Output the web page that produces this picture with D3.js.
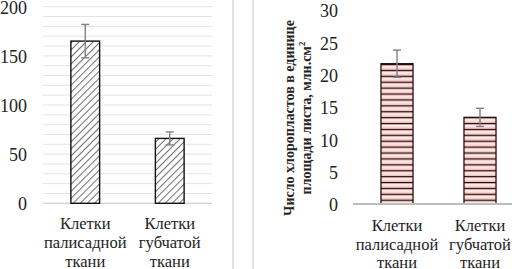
<!DOCTYPE html>
<html><head><meta charset="utf-8">
<script src="https://cdn.jsdelivr.net/npm/d3@7"></script>
<style>body{margin:0;background:#fff;}svg{display:block;}</style>
</head><body>
<svg id="c" width="512" height="269"></svg>
<script>
const categories = ["Клетки палисадной ткани", "Клетки губчатой ткани"];
const categoryLines = [["Клетки", "палисадной", "ткани"], ["Клетки", "губчатой", "ткани"]];
const leftValues = [165, 66];
const leftErrors = [17, 6.6];
const leftTicks = [0, 50, 100, 150, 200];
const rightValues = [21.7, 13.4];
const rightErrors = [2.1, 1.4];
const rightTicks = [0, 5, 10, 15, 20, 25, 30];
const rightTitle = ["Число хлоропластов в единице", "площади листа, млн.см"];

const svg = d3.select("#c");
const FONT = "Liberation Serif";
const defs = svg.append("defs");

// diagonal hatch
const hp = defs.append("pattern").attr("id","hatch").attr("patternUnits","userSpaceOnUse")
  .attr("width",5).attr("height",5).attr("patternTransform","rotate(45)");
hp.append("rect").attr("width",5).attr("height",5).attr("fill","#fff");
hp.append("line").attr("x1",0).attr("y1",0).attr("x2",0).attr("y2",5).attr("stroke","#222").attr("stroke-width",1.3);

// horizontal stripes with pink gradient
const g = defs.append("linearGradient").attr("id","pg").attr("x1",0).attr("y1",0).attr("x2",0).attr("y2",1);
g.append("stop").attr("offset","0").attr("stop-color","#eeb3ae");
g.append("stop").attr("offset","0.5").attr("stop-color","#fdf3f2");
g.append("stop").attr("offset","1").attr("stop-color","#eeb3ae");
const sp = defs.append("pattern").attr("id","stripes").attr("patternUnits","userSpaceOnUse")
  .attr("width",10).attr("height",5.9).attr("y",64);
sp.append("rect").attr("width",10).attr("height",5.9).attr("fill","url(#pg)");
sp.append("rect").attr("width",10).attr("height",1.2).attr("fill","#2a0c0c");

// panel separators
[233, 253].forEach(x => svg.append("line").attr("x1",x).attr("x2",x).attr("y1",0).attr("y2",269)
  .attr("stroke","#d9d9d9").attr("stroke-width",1.5));

function styleText(sel, size){
  sel.attr("font-family", FONT).attr("font-size", size).attr("fill","#222");
  return sel;
}

// ---------- Left chart ----------
const yL = d3.scaleLinear().domain([0,200]).range([203.3,6.7]);
const xL = d3.scaleBand().domain(categories).range([43,212]).paddingInner(0.66).paddingOuter(0.33);
const gridL = d3.range(0,201,10);
svg.append("g").selectAll("line").data(gridL).join("line")
  .attr("x1",43).attr("x2",212).attr("y1",d=>yL(d)).attr("y2",d=>yL(d))
  .attr("stroke",d=>d===0?"#d0d0d0":"#e4e4e4").attr("stroke-width",d=>d===0?1.3:1);
const axL = d3.axisLeft(yL).tickValues(leftTicks).tickSize(0).tickPadding(0);
const axLg = svg.append("g").attr("transform","translate(27,0)").call(axL);
axLg.select(".domain").remove();
axLg.attr("font-family", FONT).attr("font-size", 18);
styleText(axLg.selectAll("text").attr("dy","0.35em"), 18);

svg.append("g").selectAll("rect").data(leftValues).join("rect")
  .attr("x",(d,i)=>xL(categories[i])).attr("width",xL.bandwidth())
  .attr("y",d=>yL(d)).attr("height",d=>yL(0)-yL(d))
  .attr("fill","url(#hatch)").attr("stroke","#111").attr("stroke-width",1.4);
const ebL = svg.append("g").attr("stroke","#808080").attr("stroke-width",1.4);
leftValues.forEach((v,i)=>{
  const cx = xL(categories[i]) + xL.bandwidth()/2;
  ebL.append("line").attr("x1",cx).attr("x2",cx).attr("y1",yL(v+leftErrors[i])).attr("y2",yL(v-leftErrors[i]));
  ebL.append("line").attr("x1",cx-4).attr("x2",cx+4).attr("y1",yL(v+leftErrors[i])).attr("y2",yL(v+leftErrors[i]));
  ebL.append("line").attr("x1",cx-4).attr("x2",cx+4).attr("y1",yL(v-leftErrors[i])).attr("y2",yL(v-leftErrors[i]));
});
const baseL = [229, 248, 267];
categoryLines.forEach((lines,i)=>{
  const cx = xL(categories[i]) + xL.bandwidth()/2;
  lines.forEach((t,j)=> styleText(svg.append("text").attr("x",cx).attr("y",baseL[j]).attr("text-anchor","middle").text(t), 16.5));
});

// ---------- Right chart ----------
const yR = d3.scaleLinear().domain([0,30]).range([204,10]);
const xR = d3.scaleBand().domain(categories).range([355.5,521.5]).paddingInner(0.614).paddingOuter(0.307);
const axR = d3.axisLeft(yR).tickValues(rightTicks).tickSize(0).tickPadding(0);
const axRg = svg.append("g").attr("transform","translate(338,0)").call(axR);
axRg.select(".domain").remove();
axRg.attr("font-family", FONT).attr("font-size", 18);
styleText(axRg.selectAll("text").attr("dy","0.38em"), 18);

svg.append("g").selectAll("rect").data(rightValues).join("rect")
  .attr("x",(d,i)=>xR(categories[i])).attr("width",xR.bandwidth())
  .attr("y",d=>yR(d)).attr("height",d=>yR(0)-yR(d))
  .attr("fill","url(#stripes)").attr("stroke","#2a0c0c").attr("stroke-width",1.3);
svg.append("line").attr("x1",353).attr("x2",512).attr("y1",yR(0)).attr("y2",yR(0))
  .attr("stroke","#bdbdbd").attr("stroke-width",2.2);
const ebR = svg.append("g").attr("stroke","#808080").attr("stroke-width",1.4);
rightValues.forEach((v,i)=>{
  const cx = xR(categories[i]) + xR.bandwidth()/2;
  ebR.append("line").attr("x1",cx).attr("x2",cx).attr("y1",yR(v+rightErrors[i])).attr("y2",yR(v-rightErrors[i]));
  ebR.append("line").attr("x1",cx-4).attr("x2",cx+4).attr("y1",yR(v+rightErrors[i])).attr("y2",yR(v+rightErrors[i]));
  ebR.append("line").attr("x1",cx-4).attr("x2",cx+4).attr("y1",yR(v-rightErrors[i])).attr("y2",yR(v-rightErrors[i]));
});
const baseR = [231, 250, 268];
categoryLines.forEach((lines,i)=>{
  const cx = xR(categories[i]) + xR.bandwidth()/2;
  lines.forEach((t,j)=> styleText(svg.append("text").attr("x",cx).attr("y",baseR[j]).attr("text-anchor","middle").text(t), 16.5));
});

// Right y-axis title
const t1 = styleText(svg.append("text").attr("transform","translate(294,118) rotate(-90)").attr("text-anchor","middle")
  .attr("font-weight","bold").text(rightTitle[0]), 14);
const t2 = styleText(svg.append("text").attr("transform","translate(311,118) rotate(-90)").attr("text-anchor","middle")
  .attr("font-weight","bold"), 14);
t2.append("tspan").text(rightTitle[1]);
t2.append("tspan").attr("font-size",9).attr("dy","-6").text("2");
</script>
</body></html>
